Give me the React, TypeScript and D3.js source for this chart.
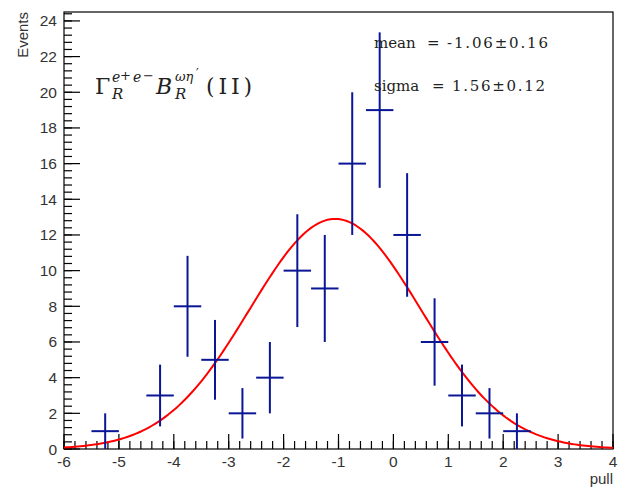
import React from 'react';
import * as d3 from 'd3';

// bin centres of the pull histogram (bin width 0.5)
const binCenters = [-5.25, -4.25, -3.75, -3.25, -2.75, -2.25, -1.75, -1.25, -0.75, -0.25, 0.25, 0.75, 1.25, 1.75, 2.25];
const binCounts = [1, 3, 8, 5, 2, 4, 10, 9, 16, 19, 12, 6, 3, 2, 1];
const binWidth = 0.5;

// gaussian fit parameters (from the legend text)
const fitMean = -1.06;
const fitSigma = 1.56;
const fitPeak = 12.9;

const xTicks = [-6, -5, -4, -3, -2, -1, 0, 1, 2, 3, 4];
const yTicks = [0, 2, 4, 6, 8, 10, 12, 14, 16, 18, 20, 22, 24];

const W = 618;
const H = 487;
const margin = { top: 12, right: 5, bottom: 38, left: 64 };

const App = () => {
  const ref = React.useRef<SVGSVGElement>(null);

  React.useEffect(() => {
    const svg = d3.select(ref.current);
    svg.selectAll('*').remove();

    const x = d3.scaleLinear().domain([-6, 4]).range([margin.left, W - margin.right]);
    const y = d3.scaleLinear().domain([0, 24.5]).range([H - margin.bottom, margin.top]);
    const x0 = margin.left, x1 = W - margin.right;
    const y0 = H - margin.bottom, y1 = margin.top;
    const sans = 'Liberation Sans, Arial, sans-serif';
    const serif = 'DejaVu Serif, Liberation Serif, serif';

    const g = svg.append('g');

    // frame
    g.append('rect')
      .attr('x', x0).attr('y', y1)
      .attr('width', x1 - x0).attr('height', y0 - y1)
      .attr('fill', 'white').attr('stroke', '#000').attr('stroke-width', 1.2);

    // x ticks
    const xMinor = d3.range(-6, 4.001, 0.2);
    g.selectAll('.xmin').data(xMinor).enter().append('line')
      .attr('x1', d => x(d)).attr('x2', d => x(d))
      .attr('y1', y0).attr('y2', y0 - 8)
      .attr('stroke', '#000').attr('stroke-width', 1.2);
    g.selectAll('.xmaj').data(xTicks).enter().append('line')
      .attr('x1', d => x(d)).attr('x2', d => x(d))
      .attr('y1', y0).attr('y2', y0 - 15)
      .attr('stroke', '#000').attr('stroke-width', 1.2);
    g.selectAll('.xlab').data(xTicks).enter().append('text')
      .attr('x', d => x(d)).attr('y', y0 + 18)
      .attr('text-anchor', 'middle')
      .attr('font-family', sans)
      .attr('font-size', 15.5).attr('fill', '#333')
      .text(d => String(d));

    // y ticks
    const yMinor = d3.range(0, 24.5, 0.4);
    g.selectAll('.ymin').data(yMinor).enter().append('line')
      .attr('x1', x0).attr('x2', x0 + 8)
      .attr('y1', d => y(d)).attr('y2', d => y(d))
      .attr('stroke', '#000').attr('stroke-width', 1.2);
    g.selectAll('.ymaj').data(yTicks).enter().append('line')
      .attr('x1', x0).attr('x2', x0 + 16)
      .attr('y1', d => y(d)).attr('y2', d => y(d))
      .attr('stroke', '#000').attr('stroke-width', 1.2);
    g.selectAll('.ylab').data(yTicks).enter().append('text')
      .attr('x', x0 - 7).attr('y', d => y(d) + 5.5)
      .attr('text-anchor', 'end')
      .attr('font-family', sans)
      .attr('font-size', 15.5).attr('fill', '#333')
      .text(d => String(d));

    // axis titles
    g.append('text')
      .attr('x', x1).attr('y', H - 3)
      .attr('text-anchor', 'end')
      .attr('font-family', sans)
      .attr('font-size', 15).attr('fill', '#333')
      .text('pull');
    g.append('text')
      .attr('transform', `translate(28,${y1}) rotate(-90)`)
      .attr('text-anchor', 'end')
      .attr('font-family', sans)
      .attr('font-size', 15).attr('fill', '#333')
      .text('Events');

    // gaussian fit
    const curve = d3.range(-6, 4.001, 0.05).map(v => [v, fitPeak * Math.exp(-0.5 * ((v - fitMean) / fitSigma) ** 2)]);
    g.append('path')
      .datum(curve)
      .attr('fill', 'none')
      .attr('stroke', '#ff0000')
      .attr('stroke-width', 2)
      .attr('d', d3.line<number[]>().x(d => x(d[0])).y(d => y(d[1])));

    // histogram points with errors
    const pts = binCenters.map((c, i) => ({ c, n: binCounts[i] }));
    const blue = '#0a1696';
    g.selectAll('.eh').data(pts).enter().append('line')
      .attr('x1', d => x(d.c - binWidth / 2)).attr('x2', d => x(d.c + binWidth / 2))
      .attr('y1', d => y(d.n)).attr('y2', d => y(d.n))
      .attr('stroke', blue).attr('stroke-width', 2);
    g.selectAll('.ev').data(pts).enter().append('line')
      .attr('x1', d => x(d.c)).attr('x2', d => x(d.c))
      .attr('y1', d => y(d.n - Math.sqrt(d.n))).attr('y2', d => y(d.n + Math.sqrt(d.n)))
      .attr('stroke', blue).attr('stroke-width', 2);

    const t = (xp: number, yp: number, size: number, s: string, italic = false) =>
      g.append('text').attr('x', xp).attr('y', yp)
        .attr('font-family', serif).attr('font-size', size).attr('fill', '#222')
        .attr('font-style', italic ? 'italic' : 'normal')
        .text(s);

    // fit results
    t(374, 48, 15, 'mean');
    t(427, 48, 15, '=');
    t(447, 48, 15, '-1.06\u00b10.16').attr('textLength', 101).attr('lengthAdjust', 'spacing');
    t(374, 91, 15, 'sigma');
    t(432, 91, 15, '=');
    t(452, 91, 15, '1.56\u00b10.12').attr('textLength', 93).attr('lengthAdjust', 'spacing');

    // label  Γ_R^{e+e-} B_R^{ωη'} (II)
    t(95, 94, 22, '\u0393');
    t(112, 82, 14, 'e', true);
    t(120, 80, 13, '+');
    t(133, 82, 14, 'e', true);
    t(143, 80, 13, '\u2212');
    t(112, 99, 15, 'R', true);
    t(156, 94, 22, 'B', true);
    t(175, 81, 13, '\u03c9\u03b7', true);
    t(196, 78, 12, '\u2032');
    t(175, 99, 15, 'R', true);
    t(206, 94, 22, '(II)').attr('textLength', 46).attr('lengthAdjust', 'spacing');
  }, []);

  return (
    <svg ref={ref} width={W} height={H}
      style={{ position: 'absolute', left: 0, top: 0, background: 'white' }} />
  );
};

export default App;
